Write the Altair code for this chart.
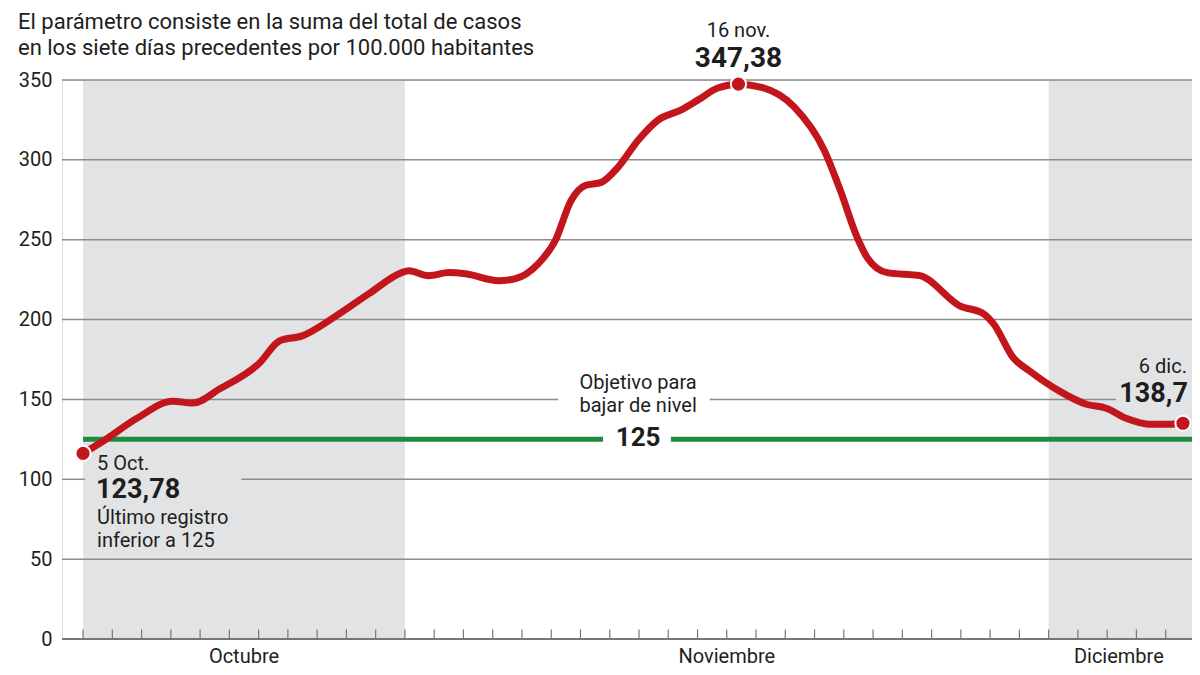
import altair as alt
import pandas as pd

FONT = "Roboto"
RED = "#c3161c"
GREEN = "#1f8b3e"
GRID = "#8c8c8c"
BAND = "#e2e3e5"
INK = "#1e1e1e"

title_lines = ["El parámetro consiste en la suma del total de casos",
               "en los siete días precedentes por 100.000 habitantes"]

# position along the (stylised) time axis, in tick units: 0 = 5 Oct, ~37.6 = 6 Dec
line_x = [0.0, 0.68, 1.84, 3.06, 3.75, 4.66, 6.03, 6.71, 7.49, 8.65, 9.77, 10.89, 11.13,
          11.81, 12.50, 13.07, 14.20, 14.78, 15.56, 16.14, 16.68, 17.16, 17.71, 18.28,
          18.97, 19.65, 20.43, 21.01, 21.69, 22.40, 23.15, 24.31, 25.33, 25.88, 26.46,
          26.80, 27.48, 28.60, 29.96, 30.78, 31.12, 31.80, 32.35, 33.37, 34.29, 34.97,
          35.65, 36.43, 37.11, 37.59]
line_y = [116.2, 123.8, 138.2, 148.9, 147.7, 156.5, 172.8, 186.6, 189.8, 202.3, 216.2,
          229.4, 230.6, 227.5, 229.4, 228.7, 224.3, 225.6, 235.0, 249.5, 274.6, 284.0,
          285.9, 295.3, 312.3, 324.9, 331.2, 337.4, 345.0, 347.38, 345.6, 333.0, 306.0,
          280.9, 251.3, 238.8, 229.4, 227.5, 208.6, 203.6, 197.3, 175.9, 167.8, 155.2,
          147.0, 144.5, 138.2, 134.5, 134.5, 135.1]

months = ["Octubre", "Noviembre", "Diciembre"]
month_start = [0, 11, 33]
month_end = [11, 33, 38]
month_label_x = [5.5, 22, 35.4]
shaded = [True, False, True]

tick_positions = list(range(0, 38))
y_ticks = [0, 50, 100, 150, 200, 250, 300, 350]

X_MIN, X_MAX = -0.72, 37.9
W, H = 1130, 559

# gridline segments (value, from, to) – broken where labels sit
grid_val = [350, 300, 250, 200, 150, 150, 100, 100, 50]
grid_from = [X_MIN, X_MIN, X_MIN, X_MIN, X_MIN, 21.42, X_MIN, 5.41, X_MIN]
grid_to = [X_MAX, X_MAX, X_MAX, X_MAX, 16.24, 35.3, 0.07, X_MAX, X_MAX]

target = 125
target_from = [0, 20.09]
target_to = [17.77, X_MAX]

df_line = pd.DataFrame({"x": line_x, "y": line_y})
df_band = pd.DataFrame({"x": [s for s, f in zip(month_start, shaded) if f],
                        "x2": [min(e, X_MAX) for e, f in zip(month_end, shaded) if f],
                        "y": 0, "y2": 350})
df_grid = pd.DataFrame({"y": grid_val, "x": grid_from, "x2": grid_to})
df_axis = pd.DataFrame({"y": [0], "x": [X_MIN], "x2": [X_MAX]})
df_ticks = pd.DataFrame({"x": tick_positions, "y": 0, "y2": 6})
df_target = pd.DataFrame({"x": target_from, "x2": target_to, "y": target})
df_months = pd.DataFrame({"x": month_label_x, "text": months})

xs = alt.Scale(domain=[X_MIN, X_MAX], nice=False, zero=False)
ys = alt.Scale(domain=[0, 350], nice=False, zero=True)
yaxis = alt.Axis(values=y_ticks, ticks=False, domain=False, grid=False,
                 labelFont=FONT, labelFontSize=20, labelColor=INK, labelPadding=10,
                 title=None)


def X(f="x"):
    return alt.X(f, type="quantitative", scale=xs, axis=None)


def Y(f="y"):
    return alt.Y(f, type="quantitative", scale=ys, axis=yaxis)


bands = alt.Chart(df_band).mark_rect(color=BAND).encode(
    x=X(), x2="x2", y=Y(), y2="y2")
grid = alt.Chart(df_grid).mark_rule(color=GRID, strokeWidth=1.5).encode(
    x=X(), x2="x2", y=Y())
axis_line = alt.Chart(df_axis).mark_rule(color="#777777", strokeWidth=2).encode(
    x=X(), x2="x2", y=Y())
ticks = alt.Chart(df_ticks).mark_rule(color="#777777", strokeWidth=1.2).encode(
    x=X(), y=Y(), y2="y2")
target_rule = alt.Chart(df_target).mark_rule(color=GREEN, strokeWidth=5).encode(
    x=X(), x2="x2", y=Y())
line = alt.Chart(df_line).mark_line(color=RED, strokeWidth=7, interpolate="monotone",
                                    strokeCap="round", strokeJoin="round").encode(
    x=X(), y=Y())

i_start, i_peak, i_end = 0, line_y.index(max(line_y)), len(line_y) - 1
df_dots = df_line.iloc[[i_start, i_peak, i_end]]
dots = alt.Chart(df_dots).mark_circle(size=230, color=RED, opacity=1,
                                      stroke="white", strokeWidth=2).encode(
    x=X(), y=Y())

month_text = alt.Chart(df_months).mark_text(font=FONT, fontSize=20, color=INK,
                                             baseline="middle").encode(
    x=X(), y=alt.value(H + 18), text="text")


def label(x, y, text, size=20, bold=False, align="left", dx=0, dy=0):
    d = pd.DataFrame({"x": [x], "y": [y], "text": [text]})
    return alt.Chart(d).mark_text(font=FONT, fontSize=size,
                                  fontWeight="bold" if bold else "normal",
                                  color=INK, align=align, baseline="middle",
                                  dx=dx, dy=dy).encode(x=X(), y=Y(), text="text")


px, py = line_x[i_peak], line_y[i_peak]
sx, sy = line_x[i_start], line_y[i_start]
ex, ey = line_x[i_end], line_y[i_end]
tx = 18.97

labels = [
    label(px, py, "16 nov.", 20, False, "center", 0, -53),
    label(px, py, "347,38", 28, True, "center", 0, -25),
    label(sx, sy, "5 Oct.", 20, False, "left", 14, 11),
    label(sx, sy, "123,78", 27, True, "left", 13, 37),
    label(sx, sy, "Último registro", 20, False, "left", 14, 65),
    label(sx, sy, "inferior a 125", 20, False, "left", 14, 88),
    label(ex, ey, "6 dic.", 20, False, "right", 4, -56),
    label(ex, ey, "138,7", 27, True, "right", 5, -29),
    label(tx, target, "Objetivo para", 20, False, "center", 0, -56),
    label(tx, target, "bajar de nivel", 20, False, "center", 0, -33),
    label(tx, target, "125", 26, True, "center", 0, -1),
]

title_df = pd.DataFrame({"text": title_lines})
title1 = alt.Chart(title_df.iloc[[0]]).mark_text(font=FONT, fontSize=22, color=INK,
                                                   align="left", baseline="alphabetic").encode(
    x=alt.value(-44), y=alt.value(-51), text="text")
title2 = alt.Chart(title_df.iloc[[1]]).mark_text(font=FONT, fontSize=22, color=INK,
                                                   align="left", baseline="alphabetic").encode(
    x=alt.value(-44), y=alt.value(-25), text="text")

chart = alt.layer(bands, grid, axis_line, ticks, target_rule, line, dots, month_text,
                  *labels, title1, title2).properties(
    width=W, height=H,
    autosize=alt.AutoSizeParams(type="none"),
    padding={"left": 54, "top": 72, "right": 0, "bottom": 28},
).configure_view(stroke=None).configure(background="white")

chart.save("out.html", embed_options={"renderer": "svg", "actions": False})
